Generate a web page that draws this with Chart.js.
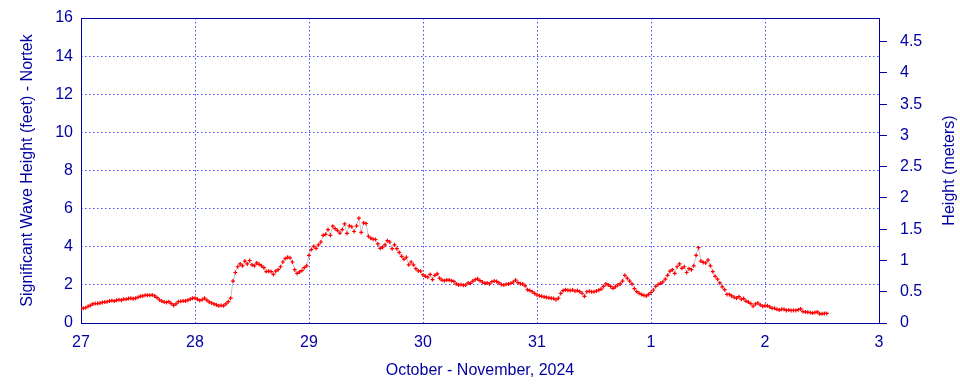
<!DOCTYPE html>
<html>
<head>
<meta charset="utf-8">
<script src="https://cdn.jsdelivr.net/npm/chart.js@4.4.1/dist/chart.umd.min.js"></script>
<style>
  html, body { margin: 0; padding: 0; background: #fff; }
</style>
</head>
<body>
<canvas id="waveChart" width="960" height="384"></canvas>
<script>
// tick labels
const dayLabels = ['27', '28', '29', '30', '31', '1', '2', '3'];
const feetTicks = [0, 2, 4, 6, 8, 10, 12, 14, 16];
const meterTicks = [0, 0.5, 1, 1.5, 2, 2.5, 3, 3.5, 4, 4.5];

// significant wave height (feet), one value every 30 min, per day
const oct27 = [0.75, 0.78, 0.8, 0.88, 0.92, 1.0, 1.02, 1.02, 1.05, 1.08, 1.1, 1.12,
  1.15, 1.18, 1.15, 1.2, 1.22, 1.2, 1.25, 1.24, 1.28, 1.3, 1.27, 1.3,
  1.35, 1.4, 1.42, 1.45, 1.46, 1.45, 1.47, 1.42, 1.33, 1.22, 1.15, 1.1,
  1.08, 1.12, 1.02, 0.92, 1.0, 1.12, 1.14, 1.15, 1.16, 1.2, 1.25, 1.3];
const oct28 = [1.3, 1.25, 1.18, 1.22, 1.3, 1.2, 1.1, 1.05, 1.0, 0.95, 0.9, 0.92,
  0.9, 1.0, 1.12, 1.3, 2.2, 2.65, 2.95, 3.1, 3.0, 3.25, 3.1, 3.28,
  3.05, 3.0, 3.15, 3.08, 3.0, 2.9, 2.7, 2.72, 2.7, 2.55, 2.72, 2.8,
  2.95, 3.2, 3.38, 3.45, 3.42, 3.2, 2.8, 2.6, 2.68, 2.75, 2.9, 3.0];
const oct29 = [3.55, 3.85, 4.02, 3.92, 4.1, 4.25, 4.6, 4.65, 4.9, 4.6, 5.08, 4.95,
  4.85, 4.72, 4.9, 5.2, 4.7, 5.1, 5.05, 4.8, 5.1, 5.5, 4.75, 5.25,
  5.22, 4.55, 4.45, 4.4, 4.38, 4.15, 3.92, 3.98, 4.1, 4.32, 4.25, 3.9,
  4.1, 3.9, 3.7, 3.5, 3.35, 3.45, 3.05, 3.2, 3.05, 2.85, 2.73, 2.72];
const oct30 = [2.52, 2.45, 2.4, 2.55, 2.28, 2.5, 2.58, 2.35, 2.25, 2.22, 2.26, 2.25,
  2.22, 2.18, 2.05, 2.0, 2.02, 1.98, 2.0, 2.1, 2.08, 2.2, 2.28, 2.32,
  2.22, 2.15, 2.08, 2.1, 2.05, 2.17, 2.2, 2.18, 2.1, 2.02, 2.0, 2.03,
  2.05, 2.08, 2.15, 2.25, 2.12, 2.06, 2.05, 1.95, 1.75, 1.7, 1.64, 1.55];
const oct31 = [1.47, 1.43, 1.4, 1.37, 1.34, 1.32, 1.3, 1.28, 1.22, 1.3, 1.55, 1.7,
  1.75, 1.72, 1.7, 1.73, 1.68, 1.7, 1.65, 1.56, 1.4, 1.64, 1.66, 1.64,
  1.64, 1.68, 1.72, 1.78, 1.92, 2.05, 2.0, 1.92, 1.82, 1.9, 2.0, 2.05,
  2.2, 2.5, 2.35, 2.2, 2.05, 1.8, 1.65, 1.56, 1.5, 1.45, 1.42, 1.5];
const nov1 = [1.6, 1.73, 1.92, 2.02, 2.08, 2.15, 2.3, 2.5, 2.72, 2.8, 2.6, 2.95,
  3.1, 2.87, 2.95, 2.65, 2.85, 2.8, 3.0, 3.55, 3.95, 3.25, 3.18, 3.15,
  3.3, 3.0, 2.7, 2.45, 2.3, 2.1, 1.9, 1.75, 1.5, 1.5, 1.42, 1.35,
  1.3, 1.38, 1.25, 1.28, 1.15, 1.1, 1.02, 0.88, 1.0, 1.05, 0.95, 0.88];
const nov2 = [0.9, 0.9, 0.85, 0.77, 0.77, 0.72, 0.68, 0.72, 0.72, 0.66, 0.68, 0.66,
  0.66, 0.66, 0.7, 0.74, 0.6, 0.58, 0.57, 0.55, 0.52, 0.55, 0.58, 0.48,
  0.48, 0.5, 0.5];

const textBlue = '#0000a0';
const gridBlue = '#4848ff';
const fontSpec = { family: "'Liberation Sans', Arial, sans-serif", size: 16 };

const points = [];
[oct27, oct28, oct29, oct30, oct31, nov1, nov2].forEach((day, d) => {
  day.forEach((v, i) => points.push({ x: d + i / 48, y: v }));
});

// fixed axis sizes so the plot box lands where the original has it
function fixWidth(s) {
  s.width = 81;
  s.paddingTop = 0;
  s.paddingBottom = 0;
}
function fixHeight(s) {
  s.height = 61;
  s.paddingLeft = 0;
  s.paddingRight = 0;
}

// frame around the plot and the rotated axis titles
const framePlugin = {
  id: 'frame',
  beforeDatasetsDraw(chart) {
    const { ctx, chartArea: a } = chart;
    ctx.save();
    ctx.strokeStyle = textBlue;
    ctx.lineWidth = 1;
    ctx.strokeRect(Math.round(a.left) + 0.5, Math.round(a.top) + 0.5,
      Math.round(a.right - a.left), Math.round(a.bottom - a.top));
    ctx.restore();
  },
  afterDraw(chart) {
    const { ctx, chartArea: a } = chart;
    const midY = (a.top + a.bottom) / 2;
    ctx.save();
    ctx.fillStyle = textBlue;
    ctx.font = '16px ' + fontSpec.family;
    ctx.textAlign = 'center';
    ctx.textBaseline = 'middle';
    [[28, 'Significant Wave Height (feet) - Nortek'], [950, 'Height (meters)']].forEach(([x, txt]) => {
      ctx.save();
      ctx.translate(x, midY);
      ctx.rotate(-Math.PI / 2);
      ctx.fillText(txt, 0, 0);
      ctx.restore();
    });
    ctx.fillText('October - November, 2024', (a.left + a.right) / 2, 371);
    ctx.restore();
  }
};

new Chart(document.getElementById('waveChart').getContext('2d'), {
  type: 'line',
  data: {
    datasets: [{
      label: 'Significant Wave Height',
      data: points,
      borderColor: '#c4c4c4',
      borderWidth: 1,
      pointStyle: 'cross',
      pointRadius: 2,
      pointBorderWidth: 1.2,
      pointBorderColor: '#ff0000',
      pointBackgroundColor: '#ff0000',
      tension: 0,
      yAxisID: 'y'
    }]
  },
  options: {
    responsive: false,
    animation: false,
    layout: { padding: { top: 18, left: 0, right: 0, bottom: 0 } },
    plugins: { legend: { display: false }, tooltip: { enabled: false } },
    scales: {
      x: {
        type: 'linear',
        min: 0,
        max: 7,
        afterBuildTicks: s => { s.ticks = dayLabels.map((_, i) => ({ value: i })); },
        afterFit: fixHeight,
        ticks: {
          color: textBlue,
          font: fontSpec,
          padding: 10,
          maxRotation: 0,
          autoSkip: false,
          callback: (v, i) => dayLabels[i]
        },
        grid: { color: gridBlue, lineWidth: 1, drawTicks: false },
        border: { display: false, dash: [1.5, 2.5] }
      },
      y: {
        position: 'left',
        min: 0,
        max: 16,
        afterBuildTicks: s => { s.ticks = feetTicks.map(v => ({ value: v })); },
        afterFit: fixWidth,
        ticks: { color: textBlue, font: fontSpec, padding: 8 },
        grid: { color: gridBlue, lineWidth: 1, drawTicks: false },
        border: { display: false, dash: [1.5, 2.5] }
      },
      y2: {
        position: 'right',
        min: 0,
        max: 16 * 0.3048,
        afterBuildTicks: s => { s.ticks = meterTicks.map(v => ({ value: v })); },
        afterFit: fixWidth,
        ticks: { color: textBlue, font: fontSpec, padding: 13, callback: v => String(v) },
        grid: { drawOnChartArea: false, drawTicks: true, tickLength: 8, color: textBlue },
        border: { display: false }
      }
    }
  },
  plugins: [framePlugin]
});
</script>
</body>
</html>
